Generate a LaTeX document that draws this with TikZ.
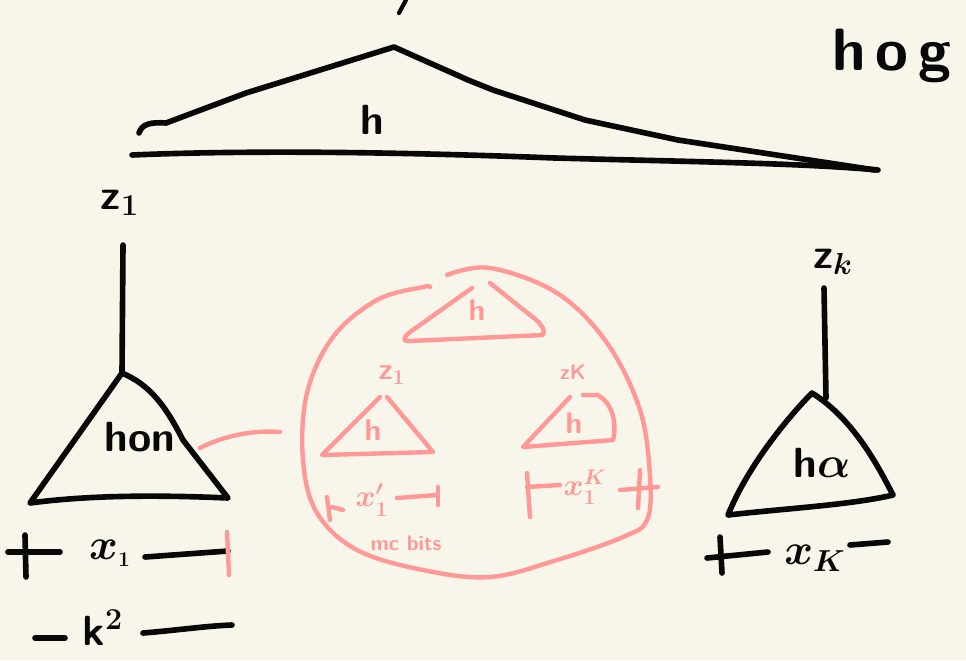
\documentclass[tikz,border=0pt]{standalone}
\usepackage{amsmath}
\usepackage{xcolor}
\usepackage{tikz}
\usetikzlibrary{positioning, calc}
\definecolor{PaperBg}{RGB}{248, 246, 234}
\definecolor{InkBlack}{RGB}{8, 8, 8}
\definecolor{SketchPink}{RGB}{255, 152, 150}

\tikzset{
  ink/.style={draw=InkBlack, line width=3.2pt, line cap=round, line join=round},
  thinink/.style={draw=InkBlack, line width=2.4pt, line cap=round, line join=round},
  pinkink/.style={draw=SketchPink, line width=2.5pt, line cap=round, line join=round},
  biglbl/.style={font=\sffamily\bfseries\boldmath\fontsize{34}{36}\selectfont, text=InkBlack, inner sep=0pt},
  lbl/.style={font=\sffamily\bfseries\boldmath\fontsize{24}{26}\selectfont, text=InkBlack, inner sep=0pt},
  pinklbl/.style={font=\sffamily\bfseries\boldmath\fontsize{17}{19}\selectfont, text=SketchPink, inner sep=0pt},
  tinypink/.style={font=\sffamily\bfseries\fontsize{12}{14}\selectfont, text=SketchPink, inner sep=0pt}
}

\begin{document}
\begin{tikzpicture}[x=0.02cm, y=-0.02cm]
    \fill[PaperBg] (0,0) rectangle (966,660);
    \useasboundingbox (0,0) rectangle (966,660);

    % top hump and its base line
    \draw[ink] (139,133) .. controls (142,124) and (150,122) .. (166,123)
      -- (246,93) -- (394,47) -- (468,80) -- (493,90) -- (585,120) -- (678,140) -- (875,170);
    \draw[ink] (132,155) .. controls (250,150) and (400,152) .. (555,158)
      .. controls (700,162) and (800,163) .. (878,170);
    \draw[thinink] (406,0) -- (399,13);
    \node[lbl] (toph) at (372,120) {h};
    \node[biglbl, anchor=west] (hog) at (832,56) {h\,o\,g};

    % left subtree
    \node[lbl] (z1) at (120,203) {z$_1$};
    \coordinate (z1stem) at (123,245);
    \coordinate (lefttop) at (122,373);
    \draw[ink] (z1stem) -- (lefttop);
    \draw[ink] (lefttop) .. controls (150,385) and (165,405) .. (183,440)
      -- (228,498) .. controls (160,495) and (90,495) .. (30,503) -- cycle;
    \node[lbl] (hon) at (140,437) {hon};

    \draw[ink] (25,535) -- (26,577);
    \draw[ink] (8,552) -- (60,552);
    \node[lbl] (x1) at (110,553) {$x_{\scriptscriptstyle 1}$};
    \draw[ink] (145,557) -- (228,551);
    \draw[pinkink] (227,532) -- (229,575);

    \draw[ink] (35,638) -- (65,638);
    \node[lbl] (ksq) at (103,628) {k$^2$};
    \draw[ink] (143,633) .. controls (180,630) and (205,626) .. (232,625);

    % pink zoom bubble
    \coordinate (honout) at (200,448);
    \coordinate (bubblein) at (280,432);
    \draw[pinkink] (honout) .. controls (225,435) and (255,430) .. (bubblein);
    \draw[pinkink] plot[smooth, tension=0.6] coordinates {
      (447,275) (490,268) (557,293) (607,343) (640,410) (650,477) (647,520)
      (623,537) (557,560) (490,577) (423,570) (357,550) (317,513) (303,460)
      (307,393) (333,337) (377,300) (423,287) (430,287)};

    % inner trees
    \draw[pinkink] (472,288) -- (410,332) .. controls (402,338) and (403,342) .. (410,341)
      -- (543,335) .. controls (546,330) and (540,322) .. (530,315) -- (490,283);
    \node[pinklbl] (inh) at (477,310) {h};

    \node[pinklbl] (inz1) at (392,375) {z$_1$};
    \draw[pinkink] (380,397) -- (322,455) -- (433,452) -- (387,397);
    \node[pinklbl] (inh1) at (373,430) {h};

    \node[tinypink] (inzk) at (573,372) {zK};
    \draw[pinkink] (570,397) -- (523,447) -- (613,440)
      .. controls (617,425) and (613,402) .. (597,395) -- (583,395);
    \node[pinklbl] (inhk) at (574,423) {h};

    \draw[pinkink] (327,497) -- (330,520);
    \draw[pinkink] (332,507) -- (343,510);
    \node[pinklbl] (inx1) at (372,500) {$x_1^{\prime}$};
    \draw[pinkink] (397,498) -- (437,495);
    \draw[pinkink] (438,487) -- (438,505);
    \node[tinypink] (bits) at (406,543) {mc bits};

    \draw[pinkink] (527,473) -- (530,517);
    \draw[pinkink] (527,487) -- (560,485);
    \node[pinklbl] (inxk) at (585,487) {$x_1^{K}$};
    \draw[pinkink] (620,490) -- (658,487);
    \draw[pinkink] (640,470) -- (638,508);

    % right subtree
    \node[lbl] (zk) at (833,262) {z$_k$};
    \coordinate (zkstem) at (824,288);
    \coordinate (righttop) at (812,393);
    \draw[ink] (zkstem) -- (826,398);
    \draw[ink] (righttop) .. controls (790,415) and (748,465) .. (728,515)
      .. controls (790,508) and (850,505) .. (893,495)
      .. controls (880,470) and (855,420) .. (righttop) -- cycle;
    \node[lbl] (hk) at (822,463) {h$\alpha$};

    \draw[ink] (720,537) -- (722,573);
    \draw[ink] (707,558) -- (768,552);
    \node[lbl] (xk) at (815,558) {$x_K$};
    \draw[ink] (850,545) -- (888,542);
\end{tikzpicture}
\end{document}
